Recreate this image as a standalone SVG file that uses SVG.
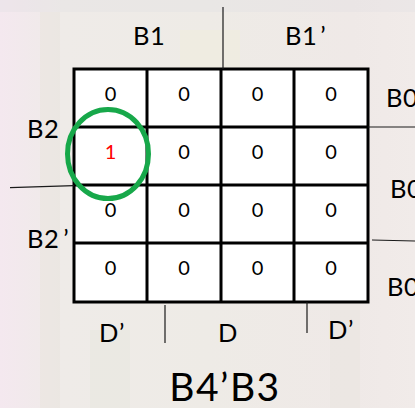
<svg xmlns="http://www.w3.org/2000/svg" width="415" height="408" viewBox="0 0 415 408">
  <style>
    text { font-family: Lato, "Liberation Sans", sans-serif; fill: #000; }
    .lbl { font-size: 25.5px; letter-spacing: 0.5px; }
    .v { font-size: 20px; text-anchor: middle; }
    .one { fill: #ff0000; }
    .grid { fill: #ffffff; stroke: #000; stroke-width: 3; }
    .thin { stroke: #1a1a1a; stroke-width: 1.2; fill: none; }
  </style>
  <defs>
    <linearGradient id="bg" x1="0" y1="0" x2="1" y2="0">
      <stop offset="0" stop-color="#f4e8ef"/>
      <stop offset="0.15" stop-color="#efebe8"/>
      <stop offset="0.5" stop-color="#eeebe6"/>
      <stop offset="0.85" stop-color="#efe9e7"/>
      <stop offset="1" stop-color="#f1ebe9"/>
    </linearGradient>
  </defs>
  <rect width="415" height="408" fill="url(#bg)"/>
  <g opacity="0.35">
    <rect x="40" y="0" width="20" height="408" fill="#e6e2d8"/>
    <rect x="180" y="30" width="60" height="40" fill="#f2f0d8"/>
    <rect x="330" y="300" width="30" height="108" fill="#e8e4dc"/>
    <rect x="90" y="330" width="40" height="78" fill="#e4e6dc"/>
    <rect x="0" y="0" width="415" height="12" fill="#e2e0e4"/>
  </g>

  <g id="kmap">
    <rect class="grid" x="74" y="69" width="294" height="233"/>
    <path d="M147 69V302M221 69V302M294 69V302M74 127H368M74 185H368M74 243H368" stroke="#000" stroke-width="3" fill="none"/>
  </g>

  <g id="cells">
    <text class="v" x="110.5" y="101">0</text>
    <text class="v" x="184" y="101">0</text>
    <text class="v" x="257.5" y="101">0</text>
    <text class="v" x="331" y="101">0</text>
    <text class="v one" x="110.5" y="159">1</text>
    <text class="v" x="184" y="159">0</text>
    <text class="v" x="257.5" y="159">0</text>
    <text class="v" x="331" y="159">0</text>
    <text class="v" x="110.5" y="217">0</text>
    <text class="v" x="184" y="217">0</text>
    <text class="v" x="257.5" y="217">0</text>
    <text class="v" x="331" y="217">0</text>
    <text class="v" x="110.5" y="275">0</text>
    <text class="v" x="184" y="275">0</text>
    <text class="v" x="257.5" y="275">0</text>
    <text class="v" x="331" y="275">0</text>
  </g>

  <g id="group-circle">
    <ellipse cx="108" cy="154" rx="40.5" ry="44.5" fill="none" stroke="#17a84a" stroke-width="5"/>
  </g>

  <g id="connectors">
    <line class="thin" x1="223" y1="7" x2="223" y2="69"/>
    <line class="thin" x1="368" y1="127" x2="415" y2="127"/>
    <line class="thin" x1="10" y1="187.7" x2="74" y2="185.7"/>
    <line class="thin" x1="372" y1="240" x2="415" y2="241"/>
    <line class="thin" x1="165" y1="305" x2="165" y2="343"/>
    <line class="thin" x1="307" y1="302" x2="307" y2="333"/>
  </g>

  <g id="labels">
    <text class="lbl" x="133" y="45">B1</text>
    <text class="lbl" x="285" y="45">B1<tspan dx="3">’</tspan></text>
    <text class="lbl" x="386" y="107">B0</text>
    <text class="lbl" x="390" y="198">B0</text>
    <text class="lbl" x="387" y="296">B0</text>
    <text class="lbl" x="27" y="138">B2</text>
    <text class="lbl" x="27" y="248">B2<tspan dx="4">’</tspan></text>
    <text class="lbl" x="99" y="342">D’</text>
    <text class="lbl" x="218" y="342">D</text>
    <text class="lbl" x="328" y="339">D’</text>
    <text x="225" y="401" font-size="39" letter-spacing="1.5" text-anchor="middle">B4’B3</text>
  </g>
</svg>
